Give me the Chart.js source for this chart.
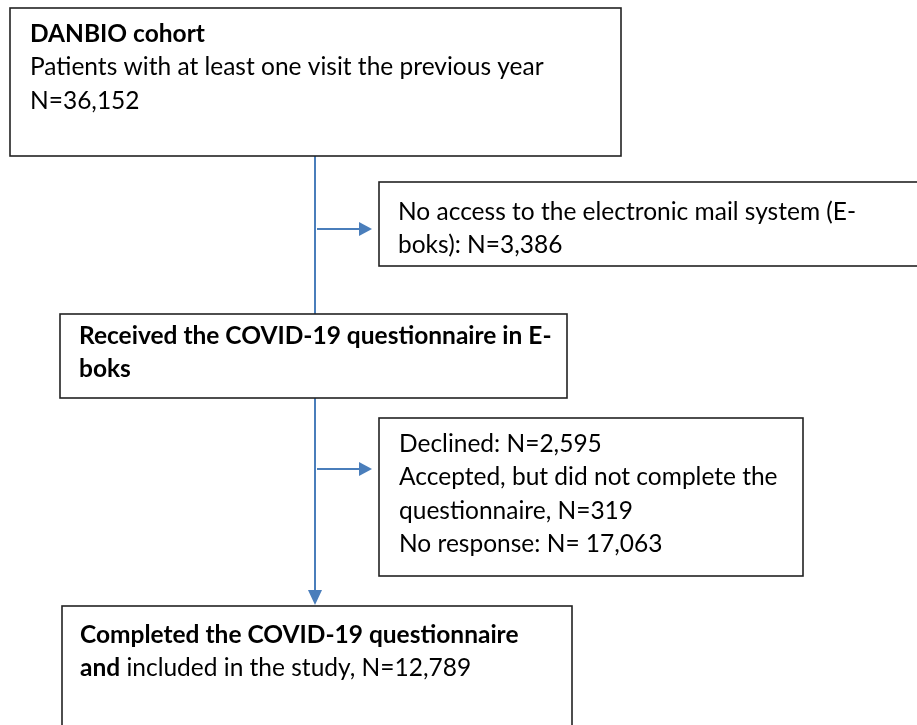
<!DOCTYPE html>
<html>
<head>
<meta charset="utf-8">
<script src="https://cdn.jsdelivr.net/npm/chart.js@4"></script>
<style>
   html, body { margin: 0; padding: 0; background: #fff; }
   #wrap { width: 917px; height: 725px; position: relative; }
</style>
</head>
<body>
<div id="wrap"><canvas id="flow"></canvas></div>
<script>
// flow steps and counts
var stepTitles = ['DANBIO cohort', 'Received the COVID-19 questionnaire in E-', 'boks', 'Completed the COVID-19 questionnaire', 'and'];
var cohortNote = 'Patients with at least one visit the previous year';
var cohortN = 36152;
var noAccessN = 3386;
var declinedN = 2595;
var notCompletedN = 319;
var noResponseN = 17063;
var completedN = 12789;

function fmt(n) { return n.toLocaleString('en-US'); }

// box contents: each line is a list of [text, bold]
var boxLines = [
   [[[stepTitles[0], true]], [[cohortNote, false]], [['N=' + fmt(cohortN), false]]],
   [[['No access to the electronic mail system (E-', false]], [['boks): N=' + fmt(noAccessN), false]]],
   [[[stepTitles[1], true]], [[stepTitles[2], true]]],
   [[['Declined: N=' + fmt(declinedN), false]],
    [['Accepted, but did not complete the', false]],
    [['questionnaire, N=' + fmt(notCompletedN), false]],
    [['No response: N= ' + fmt(noResponseN), false]]],
   [[[stepTitles[3], true]], [[stepTitles[4], true], [' included in the study, N=' + fmt(completedN), false]]]
];

// layout in chart units (x0, y0, x1, y1, text left, first baseline)
var boxLayout = [
   [10, 8, 621, 156, 30, 42],
   [379, 182, 920, 266, 398, 220],
   [60, 314, 567, 398, 79, 344],
   [379, 418, 803, 576, 399, 452],
   [62, 606, 572, 740, 80, 643]
];
var lineStep = 33.3;
var fontSize = 24.5;
var trunkX = 315;
var trunkTop = 156;
var trunkEnd = 605;
var sideArrows = [[317, 372, 229], [317, 372, 469]];

var flowPlugin = {
   id: 'flow',
   afterDraw: function(chart) {
      var ctx = chart.ctx;
      var sx = chart.scales.x, sy = chart.scales.y;
      var px = function(v) { return sx.getPixelForValue(v); };
      var py = function(v) { return sy.getPixelForValue(v); };
      ctx.save();

      // connectors
      ctx.strokeStyle = '#4a7ebb';
      ctx.fillStyle = '#4a7ebb';
      ctx.lineWidth = 2;
      ctx.beginPath();
      ctx.moveTo(px(trunkX), py(trunkTop));
      ctx.lineTo(px(trunkX), py(trunkEnd - 12));
      ctx.stroke();
      ctx.beginPath();
      ctx.moveTo(px(trunkX - 7), py(trunkEnd - 15));
      ctx.lineTo(px(trunkX + 7), py(trunkEnd - 15));
      ctx.lineTo(px(trunkX), py(trunkEnd));
      ctx.closePath();
      ctx.fill();
      sideArrows.forEach(function(a) {
         ctx.beginPath();
         ctx.moveTo(px(a[0]), py(a[2]));
         ctx.lineTo(px(a[1] - 10), py(a[2]));
         ctx.stroke();
         ctx.beginPath();
         ctx.moveTo(px(a[1] - 13), py(a[2] - 7));
         ctx.lineTo(px(a[1] - 13), py(a[2] + 7));
         ctx.lineTo(px(a[1]), py(a[2]));
         ctx.closePath();
         ctx.fill();
      });

      // boxes, filled white so the trunk passes behind them
      ctx.strokeStyle = '#222';
      ctx.lineWidth = 1.6;
      ctx.textBaseline = 'alphabetic';
      boxLayout.forEach(function(b, i) {
         var x0 = px(b[0]), y0 = py(b[1]), w = px(b[2]) - x0, h = py(b[3]) - y0;
         ctx.fillStyle = '#fff';
         ctx.fillRect(x0, y0, w, h);
         ctx.strokeRect(x0, y0, w, h);
         ctx.fillStyle = '#000';
         boxLines[i].forEach(function(line, j) {
            var x = px(b[4]);
            var y = py(b[5] + j * lineStep);
            line.forEach(function(seg) {
               ctx.font = (seg[1] ? 'bold ' : '') + fontSize + 'px Lato';
               ctx.fillText(seg[0], x, y);
               x += ctx.measureText(seg[0]).width;
            });
         });
      });
      ctx.restore();
   }
};

new Chart(document.getElementById('flow').getContext('2d'), {
   type: 'scatter',
   data: { datasets: [{ data: [] }] },
   options: {
      responsive: true,
      maintainAspectRatio: false,
      animation: false,
      layout: { padding: 0 },
      plugins: { legend: { display: false }, tooltip: { enabled: false } },
      scales: {
         x: { type: 'linear', min: 0, max: 917, display: false },
         y: { type: 'linear', min: 0, max: 725, reverse: true, display: false }
      }
   },
   plugins: [flowPlugin]
});
</script>
</body>
</html>
